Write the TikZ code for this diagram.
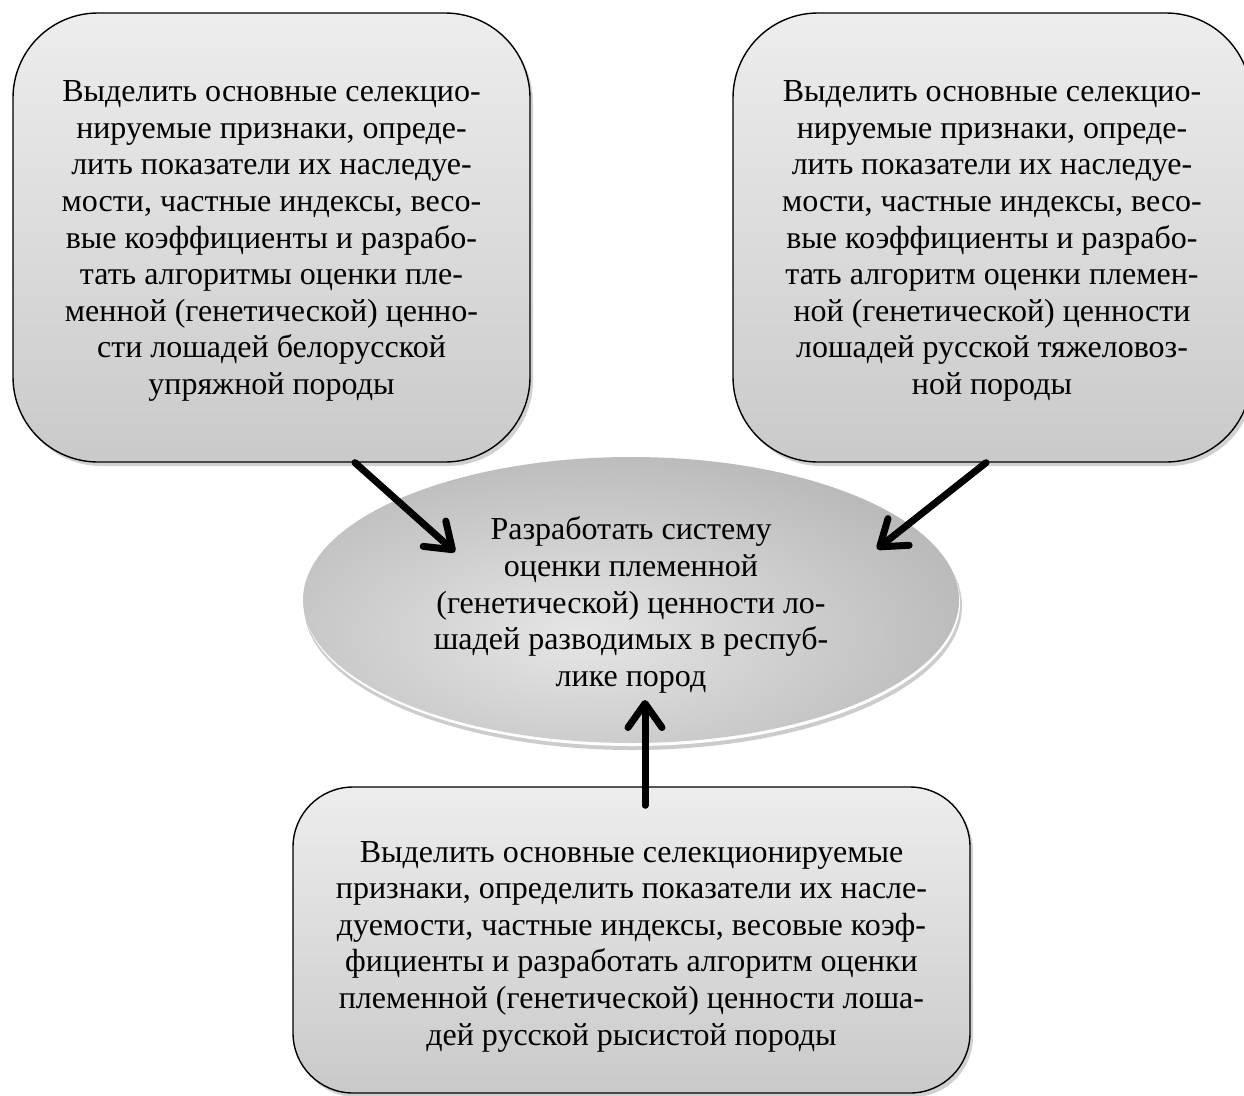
\documentclass[tikz,border=0pt]{standalone}
\usepackage{fontspec}
\setmainfont{Liberation Serif}
\usetikzlibrary{shapes.geometric,shadows,arrows.meta}
\begin{document}
\begin{tikzpicture}[x=1pt,y=-1pt,
  box/.style={draw=black,line width=1.4pt,rounded corners=85pt,top color=gray!14,bottom color=gray!42,
    drop shadow={shadow xshift=3pt,shadow yshift=-4pt,opacity=0.3,fill=black!60}},
  txt/.style={align=center,inner sep=0pt,font=\fontsize{32pt}{36.6pt}\selectfont},
  arr/.style={line width=7pt,line cap=round,line join=round,-{Straight Barb[length=24pt,width=34pt,round]}}
]
\useasboundingbox (0,0) rectangle (1244,1095);
\clip (0,0) rectangle (1244,1095);

% boxes
\node[box,minimum width=517pt,minimum height=449pt] (L) at (271.5,237.5) {};
\node[box,minimum width=518pt,minimum height=449pt] (R) at (992,237.5) {};
\node[box,rounded corners=60pt,minimum width=677pt,minimum height=306pt] (B) at (631.5,940) {};

% ellipse with rim
\fill[gray!40] (633,606) ellipse [x radius=329, y radius=144];
\fill[white] (632,603) ellipse [x radius=328, y radius=143];
\node[ellipse,inner sep=0pt,minimum width=656pt,minimum height=286pt,
  path picture={
    \shade[inner color=gray!20,outer color=gray!85]
      ([xshift=-50pt,yshift=-35pt]path picture bounding box.center) ellipse [x radius=760pt,y radius=360pt];
  }] (E) at (631,600) {};

% texts
\node[txt] (Lt) at (271.5,241) {Выделить основные селекцио-\\нируемые признаки, опреде-\\лить показатели их наследуе-\\мости, частные индексы, весо-\\вые коэффициенты и разрабо-\\тать алгоритмы оценки пле-\\менной (генетической) ценно-\\сти лошадей белорусской\\упряжной породы};
\node[txt] (Rt) at (992,241) {Выделить основные селекцио-\\нируемые признаки, опреде-\\лить показатели их наследуе-\\мости, частные индексы, весо-\\вые коэффициенты и разрабо-\\тать алгоритм оценки племен-\\ной (генетической) ценности\\лошадей русской тяжеловоз-\\ной породы};
\node[txt] (Bt) at (631.5,946.5) {Выделить основные селекционируемые\\признаки, определить показатели их насле-\\дуемости, частные индексы, весовые коэф-\\фициенты и разработать алгоритм оценки\\племенной (генетической) ценности лоша-\\дей русской рысистой породы};
\node[txt] (Et) at (631,605) {Разработать систему\\оценки племенной\\(генетической) ценности ло-\\шадей разводимых в респуб-\\лике пород};

% arrows
\coordinate (l1) at ([xshift=83.5pt]L.south);
\coordinate (l2) at ([shift={(-176pt,48pt)}]E.center);
\coordinate (r1) at ([xshift=-6pt]R.south);
\coordinate (r2) at ([shift={(246pt,51pt)}]E.center);
\coordinate (b1) at ([shift={(13.5pt,-19pt)}]B.north);
\coordinate (b2) at ([shift={(14pt,-100pt)}]E.center);
\draw[arr] (l1) -- (l2);
\draw[arr] (r1) -- (r2);
\draw[arr] (b1) -- (b2);
\end{tikzpicture}
\end{document}
